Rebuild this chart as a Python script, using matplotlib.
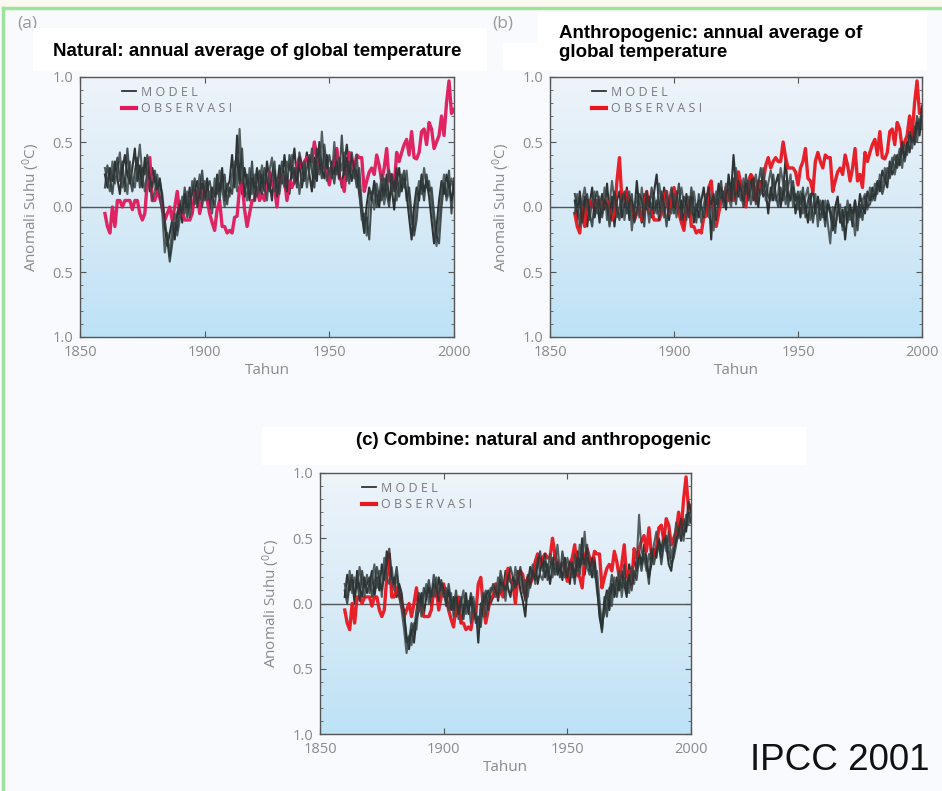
import matplotlib
matplotlib.use("Agg")
import matplotlib.pyplot as plt
from matplotlib.lines import Line2D
from matplotlib.patches import Rectangle
from matplotlib.ticker import MultipleLocator, FuncFormatter
import numpy as np

plt.rcParams['font.family'] = ['Open Sans', 'DejaVu Sans']
plt.rcParams['mathtext.default'] = 'regular'

years = list(range(1860, 2001))
xticks = [1850, 1900, 1950, 2000]
yticks = [-1.0, -0.5, 0.0, 0.5, 1.0]

# observed annual global temperature anomaly (deg C)
observed = [
    -0.05, -0.15, -0.20, 0.00, -0.15, 0.05, 0.05, 0.00, 0.05, 0.05,
    0.05, -0.02, 0.05, 0.05, -0.05, -0.10, -0.05, 0.20, 0.38, 0.05,
    0.05, 0.12, 0.07, 0.00, -0.10, -0.05, 0.00, -0.10, 0.00, 0.12,
    -0.05, -0.03, -0.10, -0.10, -0.10, -0.05, 0.10, 0.12, -0.05, 0.05,
    0.15, 0.05, -0.05, -0.12, -0.18, -0.02, 0.05, -0.15, -0.15, -0.20,
    -0.18, -0.20, -0.08, -0.07, 0.15, 0.20, -0.02, -0.15, -0.05, 0.05,
    0.05, 0.15, 0.05, 0.10, 0.05, 0.15, 0.27, 0.17, 0.15, 0.00,
    0.20, 0.25, 0.22, 0.05, 0.20, 0.15, 0.20, 0.32, 0.38, 0.30,
    0.35, 0.38, 0.35, 0.35, 0.50, 0.38, 0.30, 0.30, 0.30, 0.27,
    0.17, 0.30, 0.35, 0.45, 0.22, 0.20, 0.12, 0.35, 0.42, 0.35,
    0.30, 0.40, 0.38, 0.38, 0.12, 0.20, 0.27, 0.30, 0.25, 0.40,
    0.32, 0.20, 0.30, 0.45, 0.20, 0.25, 0.15, 0.42, 0.35, 0.42,
    0.48, 0.52, 0.40, 0.58, 0.38, 0.37, 0.42, 0.58, 0.60, 0.48,
    0.65, 0.60, 0.45, 0.50, 0.55, 0.70, 0.55, 0.80, 0.97, 0.72,
    0.75,
]

# model runs with natural forcing only
natural_1 = [
    0.25, 0.15, 0.30, 0.20, 0.35, 0.22, 0.10, 0.28, 0.40, 0.25,
    0.18, 0.30, 0.45, 0.20, 0.32, 0.15, 0.38, 0.25, 0.12, 0.30,
    0.20, 0.10, 0.22, 0.05, -0.15, -0.30, -0.20, -0.10, -0.25, -0.05,
    0.05, -0.12, 0.10, 0.00, 0.15, -0.05, 0.12, 0.20, 0.05, 0.18,
    0.10, 0.22, -0.02, 0.15, 0.08, 0.25, 0.12, 0.30, 0.05, 0.15,
    0.20, 0.40, 0.15, 0.55, 0.25, 0.10, 0.30, 0.18, 0.05, 0.22,
    0.15, 0.30, 0.10, 0.25, 0.12, 0.35, 0.20, 0.05, 0.28, 0.15,
    0.32, 0.18, 0.40, 0.22, 0.10, 0.30, 0.45, 0.20, 0.35, 0.15,
    0.28, 0.42, 0.25, 0.12, 0.38, 0.20, 0.50, 0.30, 0.22, 0.40,
    0.18, 0.35, 0.25, 0.45, 0.28, 0.15, 0.32, 0.48, 0.30, 0.20,
    0.35, 0.25, 0.10, -0.05, -0.20, 0.02, 0.15, 0.05, 0.20, 0.10,
    0.00, 0.18, 0.08, 0.25, 0.05, 0.15, -0.02, 0.20, 0.30, 0.12,
    0.22, 0.10, -0.08, -0.25, 0.00, 0.15, 0.05, 0.25, 0.12, 0.20,
    0.08, -0.10, -0.28, -0.15, 0.05, 0.20, 0.10, 0.25, 0.15, 0.05,
    0.18,
]
natural_2 = [
    0.30, 0.20, 0.12, 0.35, 0.18, 0.28, 0.42, 0.15, 0.22, 0.10,
    0.35, 0.20, 0.15, 0.30, 0.48, 0.25, 0.12, 0.28, 0.20, 0.05,
    0.12, 0.25, 0.08, -0.05, -0.35, -0.20, -0.38, -0.15, -0.05, -0.22,
    -0.10, 0.08, -0.05, 0.12, -0.08, 0.20, 0.02, 0.10, 0.25, 0.00,
    0.20, 0.05, 0.12, -0.05, 0.22, 0.10, 0.28, 0.15, 0.00, 0.18,
    0.08, 0.25, 0.35, 0.12, 0.60, 0.20, 0.15, 0.05, 0.30, 0.10,
    0.25, 0.08, 0.20, 0.32, 0.15, 0.05, 0.28, 0.38, 0.12, 0.22,
    0.10, 0.25, 0.15, 0.35, 0.28, 0.40, 0.18, 0.30, 0.10, 0.25,
    0.35, 0.15, 0.30, 0.45, 0.22, 0.35, 0.25, 0.58, 0.32, 0.20,
    0.30, 0.22, 0.50, 0.25, 0.38, 0.28, 0.42, 0.20, 0.35, 0.28,
    0.22, 0.40, 0.15, -0.10, -0.05, -0.22, 0.05, 0.12, -0.02, 0.18,
    0.08, 0.25, 0.02, 0.15, 0.28, 0.10, 0.20, 0.05, 0.18, 0.25,
    0.15, 0.28, 0.05, -0.12, -0.18, 0.08, 0.20, 0.10, 0.30, 0.15,
    0.20, 0.02, -0.15, -0.30, -0.08, 0.10, 0.25, 0.05, 0.12, 0.22,
    0.10,
]
natural_3 = [
    0.15, 0.32, 0.22, 0.10, 0.28, 0.38, 0.20, 0.35, 0.12, 0.45,
    0.22, 0.12, 0.28, 0.38, 0.15, 0.30, 0.25, 0.40, 0.22, 0.15,
    0.28, 0.15, 0.20, 0.10, -0.10, -0.25, -0.42, -0.28, -0.12, -0.18,
    0.02, -0.05, 0.15, -0.08, 0.05, 0.10, 0.22, 0.00, 0.12, 0.28,
    0.05, 0.15, 0.20, 0.08, 0.00, 0.18, 0.05, 0.22, 0.25, 0.02,
    0.15, 0.10, 0.28, 0.38, 0.18, 0.45, 0.08, 0.25, 0.12, 0.35,
    0.05, 0.22, 0.28, 0.10, 0.30, 0.20, 0.12, 0.25, 0.35, 0.08,
    0.20, 0.35, 0.25, 0.12, 0.40, 0.22, 0.30, 0.15, 0.42, 0.32,
    0.20, 0.30, 0.40, 0.28, 0.15, 0.45, 0.35, 0.22, 0.48, 0.30,
    0.40, 0.28, 0.18, 0.35, 0.22, 0.55, 0.25, 0.38, 0.18, 0.42,
    0.28, 0.15, 0.30, 0.02, -0.12, -0.08, -0.25, 0.08, 0.15, 0.00,
    0.12, 0.05, 0.22, 0.10, 0.00, 0.25, 0.12, 0.30, 0.08, 0.20,
    0.28, 0.05, 0.15, -0.05, -0.22, -0.10, 0.12, 0.18, 0.05, 0.25,
    0.12, 0.15, -0.05, -0.22, -0.28, 0.00, 0.18, 0.08, 0.28, -0.05,
    0.22,
]

# model runs with anthropogenic forcing only
anthro_1 = [
    0.05, -0.10, 0.12, -0.05, 0.08, -0.15, 0.02, 0.15, -0.08, 0.05,
    -0.12, 0.10, -0.02, 0.18, -0.05, 0.08, -0.15, 0.05, 0.12, -0.08,
    0.02, 0.15, -0.10, 0.05, -0.05, 0.20, 0.00, -0.12, 0.10, -0.02,
    0.08, -0.08, 0.12, 0.25, 0.02, -0.05, 0.15, 0.05, -0.10, 0.08,
    0.00, 0.12, -0.05, 0.05, -0.15, 0.10, -0.02, 0.08, -0.12, 0.02,
    -0.08, 0.05, 0.15, -0.05, 0.10, -0.25, 0.08, 0.02, 0.18, 0.05,
    0.12, -0.02, 0.25, 0.10, 0.40, 0.15, 0.08, 0.20, 0.05, 0.18,
    0.10, 0.25, 0.05, 0.15, 0.00, 0.20, 0.08, 0.12, -0.05, 0.15,
    0.05, 0.18, 0.25, 0.00, 0.12, 0.38, 0.10, 0.05, 0.15, -0.05,
    0.08, -0.08, 0.10, 0.02, -0.12, 0.05, 0.15, -0.05, 0.08, -0.02,
    0.05, -0.10, 0.02, -0.05, -0.18, 0.00, 0.08, -0.12, -0.02, -0.25,
    -0.05, 0.02, -0.15, 0.05, -0.08, 0.10, 0.00, -0.05, 0.12, 0.05,
    0.15, 0.08, 0.20, 0.12, 0.28, 0.22, 0.15, 0.35, 0.25, 0.30,
    0.40, 0.32, 0.45, 0.38, 0.50, 0.42, 0.60, 0.48, 0.65, 0.55,
    0.70,
]
anthro_2 = [
    -0.05, 0.10, -0.15, 0.05, 0.15, 0.00, -0.10, 0.05, 0.12, -0.05,
    0.08, -0.05, 0.15, -0.10, 0.02, 0.20, 0.05, -0.08, 0.00, 0.10,
    -0.10, 0.05, 0.12, -0.18, 0.00, 0.08, -0.08, 0.15, -0.02, 0.05,
    -0.12, 0.02, 0.08, -0.05, 0.18, 0.05, -0.08, 0.12, 0.00, -0.05,
    0.10, -0.08, 0.05, 0.15, 0.02, -0.10, 0.08, -0.05, 0.12, -0.02,
    0.05, -0.12, 0.02, 0.10, -0.08, 0.05, -0.18, 0.12, 0.00, 0.15,
    0.05, 0.18, 0.08, 0.00, 0.15, 0.30, 0.12, 0.05, 0.22, 0.10,
    0.20, 0.02, 0.15, 0.25, 0.08, 0.10, 0.30, 0.05, 0.18, 0.28,
    0.15, 0.05, 0.10, 0.30, 0.18, 0.02, 0.15, 0.25, 0.00, 0.10,
    -0.02, 0.12, -0.05, 0.08, 0.15, -0.10, 0.00, 0.10, -0.15, 0.05,
    -0.08, 0.05, -0.12, -0.28, 0.00, -0.15, -0.05, 0.02, -0.18, -0.08,
    0.05, -0.10, -0.02, -0.22, 0.00, -0.08, 0.05, 0.10, -0.02, 0.15,
    0.05, 0.18, 0.10, 0.25, 0.15, 0.30, 0.20, 0.28, 0.38, 0.25,
    0.35, 0.45, 0.30, 0.48, 0.40, 0.55, 0.45, 0.62, 0.50, 0.68,
    0.60,
]
anthro_3 = [
    0.10, 0.00, 0.05, -0.12, 0.02, 0.10, -0.05, -0.15, 0.05, 0.12,
    0.00, -0.08, 0.05, 0.02, -0.15, -0.02, 0.12, 0.00, -0.10, 0.05,
    0.12, -0.05, 0.02, 0.10, -0.12, -0.02, 0.10, 0.05, -0.15, 0.12,
    0.00, 0.15, -0.05, 0.05, -0.10, 0.12, 0.02, -0.15, 0.05, 0.15,
    -0.05, 0.05, 0.18, -0.10, 0.08, 0.02, -0.08, 0.15, 0.00, -0.12,
    0.10, 0.00, -0.08, 0.05, 0.15, 0.02, 0.10, -0.10, 0.08, 0.20,
    0.00, 0.10, 0.15, 0.05, 0.22, 0.02, 0.20, 0.12, 0.00, 0.25,
    0.05, 0.15, 0.22, 0.02, 0.18, 0.30, 0.12, 0.20, 0.08, 0.05,
    0.25, 0.10, 0.00, 0.15, 0.05, 0.20, 0.00, 0.12, 0.20, 0.05,
    0.12, 0.02, 0.15, -0.08, 0.05, 0.10, -0.12, 0.02, 0.05, -0.10,
    0.00, -0.15, 0.05, -0.02, -0.10, -0.20, 0.02, -0.08, -0.15, 0.00,
    -0.12, 0.00, -0.05, 0.05, -0.18, 0.02, -0.10, 0.08, 0.00, 0.02,
    0.10, 0.05, 0.15, 0.20, 0.10, 0.18, 0.30, 0.22, 0.32, 0.40,
    0.30, 0.38, 0.50, 0.35, 0.45, 0.58, 0.50, 0.55, 0.70, 0.60,
    0.78,
]

# model runs with natural + anthropogenic forcing
combined_1 = [
    0.05, 0.22, 0.10, 0.18, 0.00, 0.25, 0.12, 0.05, 0.20, 0.08,
    0.15, 0.25, 0.05, 0.20, 0.10, 0.30, 0.18, 0.40, 0.25, 0.12,
    0.20, 0.05, 0.15, 0.08, -0.10, -0.25, -0.35, -0.20, -0.30, -0.12,
    -0.05, 0.08, -0.08, 0.05, 0.12, -0.02, 0.15, 0.05, 0.20, 0.10,
    0.15, 0.02, 0.10, -0.05, 0.05, -0.10, 0.02, -0.15, -0.05, 0.08,
    -0.08, 0.05, -0.12, -0.02, -0.30, 0.00, -0.10, 0.05, 0.10, 0.00,
    0.05, 0.15, 0.02, 0.18, 0.10, 0.25, 0.12, 0.05, 0.20, 0.15,
    0.25, 0.10, 0.02, -0.10, 0.15, 0.28, 0.20, 0.32, 0.15, 0.25,
    0.35, 0.20, 0.30, 0.15, 0.28, 0.40, 0.22, 0.30, 0.18, 0.35,
    0.25, 0.15, 0.32, 0.20, 0.40, 0.28, 0.50, 0.22, 0.35, 0.30,
    0.20, 0.35, 0.15, -0.10, -0.20, 0.00, 0.10, -0.05, 0.15, 0.05,
    0.20, 0.10, 0.25, 0.15, 0.05, 0.30, 0.20, 0.35, 0.25, 0.40,
    0.30, 0.45, 0.35, 0.20, 0.30, 0.42, 0.35, 0.50, 0.40, 0.55,
    0.45, 0.30, 0.25, 0.40, 0.50, 0.60, 0.48, 0.65, 0.55, 0.70,
    0.62,
]
combined_2 = [
    0.15, 0.05, 0.25, 0.08, 0.20, 0.12, 0.28, 0.15, 0.05, 0.22,
    0.08, 0.18, 0.30, 0.12, 0.25, 0.05, 0.35, 0.20, 0.15, 0.28,
    0.10, 0.22, 0.05, -0.05, -0.20, -0.38, -0.25, -0.32, -0.15, -0.20,
    0.02, -0.10, 0.05, 0.15, 0.00, 0.10, 0.05, 0.20, 0.08, 0.15,
    0.05, 0.12, -0.05, 0.08, -0.10, 0.05, -0.12, 0.00, 0.10, -0.08,
    0.02, -0.15, 0.05, -0.08, -0.20, -0.05, 0.08, -0.10, 0.05, 0.12,
    0.10, 0.05, 0.20, 0.08, 0.15, 0.02, 0.22, 0.18, 0.10, 0.28,
    0.15, 0.22, 0.08, 0.18, 0.05, 0.20, 0.30, 0.15, 0.35, 0.22,
    0.18, 0.32, 0.25, 0.38, 0.20, 0.30, 0.45, 0.25, 0.32, 0.20,
    0.35, 0.28, 0.20, 0.38, 0.25, 0.45, 0.30, 0.55, 0.28, 0.22,
    0.30, 0.20, 0.25, 0.02, -0.15, -0.08, 0.05, 0.12, -0.02, 0.20,
    0.10, 0.25, 0.05, 0.20, 0.15, 0.08, 0.28, 0.15, 0.30, 0.68,
    0.40, 0.35, 0.25, 0.38, 0.30, 0.45, 0.55, 0.42, 0.35, 0.50,
    0.40, 0.55, 0.35, 0.45, 0.62, 0.50, 0.58, 0.48, 0.68, 0.60,
    0.75,
]
combined_3 = [
    0.10, 0.00, 0.15, 0.22, 0.05, 0.18, 0.02, 0.25, 0.12, 0.15,
    0.20, 0.05, 0.15, 0.28, 0.18, 0.10, 0.22, 0.30, 0.42, 0.20,
    0.15, 0.28, 0.10, 0.02, -0.05, -0.30, -0.28, -0.15, -0.22, -0.05,
    0.08, -0.02, 0.12, 0.05, 0.18, 0.05, 0.22, 0.12, 0.02, 0.18,
    0.10, -0.02, 0.15, 0.02, -0.05, 0.10, -0.08, 0.05, -0.12, 0.02,
    -0.05, 0.08, -0.02, -0.15, -0.10, -0.18, 0.02, 0.10, -0.05, 0.08,
    0.15, 0.10, 0.05, 0.25, 0.15, 0.10, 0.18, 0.28, 0.20, 0.12,
    0.18, 0.28, 0.15, 0.02, 0.22, 0.12, 0.25, 0.18, 0.30, 0.40,
    0.25, 0.38, 0.18, 0.28, 0.35, 0.22, 0.32, 0.20, 0.40, 0.28,
    0.20, 0.32, 0.28, 0.15, 0.35, 0.22, 0.38, 0.30, 0.45, 0.25,
    0.35, 0.28, 0.10, -0.05, -0.22, 0.05, -0.10, 0.08, 0.22, 0.12,
    0.05, 0.18, 0.12, 0.30, 0.08, 0.22, 0.10, 0.25, 0.18, 0.35,
    0.25, 0.38, 0.30, 0.15, 0.42, 0.30, 0.40, 0.48, 0.30, 0.45,
    0.52, 0.40, 0.30, 0.35, 0.45, 0.55, 0.65, 0.52, 0.60, 0.78,
    0.70,
]

model_colors = ['#1c1f1f', '#3c4646', '#2a3434']
sky = plt.matplotlib.colors.LinearSegmentedColormap.from_list(
    'sky', ['#eef4fa', '#d9ebf7', '#bde2f6'])
tick_grey = '#8a8a8a'


def draw_panel(ax, runs, obs_color):
    # pale-to-sky gradient behind the curves, light at the top
    grad = np.linspace(0, 1, 256).reshape(-1, 1)
    ax.imshow(grad, extent=[1850, 2000, -1.0, 1.0], origin='upper',
              aspect='auto', cmap=sky, zorder=0)
    ax.axhline(0, color='#555555', lw=1.0, zorder=1)

    ax.plot(years, runs[0], color=model_colors[0], lw=1.5, alpha=0.9, zorder=2)
    ax.plot(years, observed, color=obs_color, lw=2.4, alpha=0.95, zorder=3)
    for run, c in zip(runs[1:], model_colors[1:]):
        ax.plot(years, run, color=c, lw=1.5, alpha=0.85, zorder=4)

    ax.set_xlim(1850, 2000)
    ax.set_ylim(-1.0, 1.0)
    ax.set_xticks(xticks)
    ax.set_yticks(yticks)
    ax.yaxis.set_minor_locator(MultipleLocator(0.1))
    ax.yaxis.set_major_formatter(FuncFormatter(lambda v, p: '%.1f' % abs(v)))
    ax.tick_params(which='both', direction='in', top=True, right=True,
                   colors='#555555', labelcolor=tick_grey, labelsize=10.5)
    ax.tick_params(axis='x', pad=6)
    ax.tick_params(axis='y', pad=5)
    ax.tick_params(which='major', length=4)
    ax.tick_params(which='minor', length=2.5)
    for s in ax.spines.values():
        s.set_color('#555555')
        s.set_linewidth(1.0)

    ax.set_xlabel('Tahun', color=tick_grey, fontsize=11, labelpad=2)
    ax.set_ylabel('Anomali Suhu ($^{0}$C)', color=tick_grey, fontsize=11,
                  labelpad=7)

    handles = [Line2D([], [], color='#333333', lw=1.3),
               Line2D([], [], color=obs_color, lw=3)]
    leg = ax.legend(handles, ['M O D E L', 'O B S E R V A S I'], loc='upper left',
                    bbox_to_anchor=(0.09, 1.0), frameon=False, fontsize=9,
                    handlelength=1.1, handletextpad=0.4, labelspacing=0.3,
                    borderaxespad=0.3)
    for t in leg.get_texts():
        t.set_color('#7a7a7a')


fig = plt.figure(figsize=(9.42, 7.91), dpi=100, facecolor='#f8fafd')

# page frame: cream strip on top, green rule top and left
fig.patches.append(Rectangle((0, 1 - 8 / 791), 1, 8 / 791, transform=fig.transFigure,
                             facecolor='#fbf8f0', edgecolor='none', zorder=0))
fig.add_artist(Line2D([3 / 942, 1], [1 - 8 / 791, 1 - 8 / 791], transform=fig.transFigure,
                      color='#9ee29e', lw=2.5))
fig.add_artist(Line2D([3 / 942, 3 / 942], [0, 1 - 8 / 791], transform=fig.transFigure,
                      color='#9ee29e', lw=2.5))

ax_a = fig.add_axes([80 / 942, 1 - 337 / 791, 374 / 942, 260 / 791])
ax_b = fig.add_axes([550 / 942, 1 - 337 / 791, 372 / 942, 260 / 791])
ax_c = fig.add_axes([320 / 942, 1 - 734 / 791, 371 / 942, 261 / 791])

draw_panel(ax_a, [natural_1, natural_2, natural_3], '#e0195a')
draw_panel(ax_b, [anthro_1, anthro_2, anthro_3], '#e8161e')
draw_panel(ax_c, [combined_1, combined_2, combined_3], '#e8161e')


def white_box(x0, y0, x1, y1):
    fig.patches.append(Rectangle((x0 / 942, 1 - y1 / 791), (x1 - x0) / 942,
                                 (y1 - y0) / 791, transform=fig.transFigure,
                                 facecolor='white', edgecolor='none', zorder=5))


white_box(33, 28, 487, 71)
white_box(538, 12, 927, 70)
white_box(503, 43, 538, 70)
white_box(262, 427, 806, 465)

fig.text(17 / 942, 1 - 23 / 791, '(a)', fontsize=12.5, color='#999999', va='center')
fig.text(492 / 942, 1 - 23 / 791, '(b)', fontsize=12.5, color='#999999', va='center')

title_kw = dict(family='Liberation Sans', weight='bold', color='black', zorder=6)
fig.text(257 / 942, 1 - 51 / 791, 'Natural: annual average of global temperature',
         fontsize=13.5, ha='center', va='center', **title_kw)
fig.text(559 / 942, 1 - 43 / 791, 'Anthropogenic: annual average of\nglobal temperature',
         fontsize=13.5, ha='left', va='center', linespacing=1.2, **title_kw)
fig.text(534 / 942, 1 - 440 / 791, '(c) Combine: natural and anthropogenic',
         fontsize=13.5, ha='center', va='center', **title_kw)

fig.text(930 / 942, 1 - 760 / 791, 'IPCC 2001', family='Liberation Sans',
         fontsize=26.5, color='#111111', ha='right', va='center')

plt.savefig('out.png', dpi=100, facecolor=fig.get_facecolor())
